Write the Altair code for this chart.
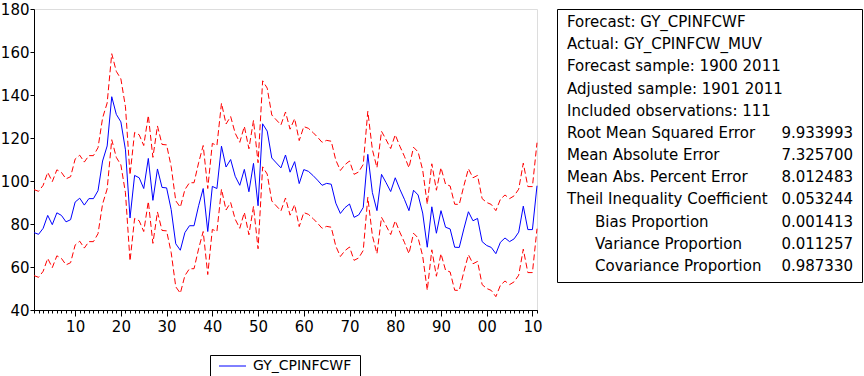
import altair as alt
import pandas as pd

years = list(range(1901, 2012))

forecast = [
    76.0, 75.2, 78.0, 84.0, 79.7, 85.2, 84.0, 81.0, 82.0, 90.2,
    92.0, 88.8, 91.8, 91.8, 95.5, 109.3, 116.3, 139.2, 131.0, 127.5,
    114.5, 82.8, 102.6, 101.5, 96.5, 110.5, 91.0, 105.6, 97.0, 96.8,
    86.7, 70.8, 67.8, 76.0, 79.2, 79.2, 88.5, 96.5, 76.5, 97.5,
    96.5, 116.2, 106.5, 110.0, 102.2, 98.0, 105.4, 95.0, 108.2, 88.5,
    126.6, 123.2, 110.7, 108.4, 106.1, 112.1, 104.1, 109.0, 98.8, 105.3,
    104.5, 102.6, 100.4, 98.0, 98.9, 98.5, 89.7, 84.9, 87.6, 89.3,
    83.1, 84.2, 87.7, 112.4, 94.6, 86.2, 103.1, 99.2, 95.1, 101.5,
    96.2, 91.5, 86.2, 95.7, 93.5, 85.1, 69.2, 88.0, 75.7, 86.2,
    78.5, 77.7, 69.2, 69.1, 77.7, 85.7, 81.5, 82.6, 71.8, 70.0,
    69.1, 66.2, 71.5, 73.5, 71.8, 73.1, 76.2, 88.3, 77.4, 77.4,
    97.8,
]

upper = [
    96.0, 95.2, 98.0, 104.0, 99.7, 105.2, 104.0, 101.0, 102.0, 110.2,
    112.0, 108.8, 111.8, 111.8, 115.5, 129.3, 136.3, 159.2, 151.0, 147.5,
    134.5, 102.8, 122.6, 121.5, 116.5, 130.5, 111.0, 125.6, 117.0, 116.8,
    106.7, 90.8, 87.8, 96.0, 99.2, 99.2, 108.5, 116.5, 96.5, 117.5,
    116.5, 136.2, 126.5, 130.0, 122.2, 118.0, 125.4, 115.0, 128.2, 108.5,
    146.6, 143.2, 130.7, 128.4, 126.1, 132.1, 124.1, 129.0, 118.8, 125.3,
    124.5, 122.6, 120.4, 118.0, 118.9, 118.5, 109.7, 104.9, 107.6, 109.3,
    103.1, 104.2, 107.7, 132.4, 114.6, 106.2, 123.1, 119.2, 115.1, 121.5,
    116.2, 111.5, 106.2, 115.7, 113.5, 105.1, 89.2, 108.0, 95.7, 106.2,
    98.5, 97.7, 89.2, 89.1, 97.7, 105.7, 101.5, 102.6, 91.8, 90.0,
    89.1, 86.2, 91.5, 93.5, 91.8, 93.1, 96.2, 108.3, 97.4, 97.4,
    117.8,
]

lower = [
    56.0, 55.2, 58.0, 64.0, 59.7, 65.2, 64.0, 61.0, 62.0, 70.2,
    72.0, 68.8, 71.8, 71.8, 75.5, 89.3, 96.3, 119.2, 111.0, 107.5,
    94.5, 62.8, 82.6, 81.5, 76.5, 90.5, 71.0, 85.6, 77.0, 76.8,
    66.7, 50.8, 47.8, 56.0, 59.2, 59.2, 68.5, 76.5, 56.5, 77.5,
    76.5, 96.2, 86.5, 90.0, 82.2, 78.0, 85.4, 75.0, 88.2, 68.5,
    106.6, 103.2, 90.7, 88.4, 86.1, 92.1, 84.1, 89.0, 78.8, 85.3,
    84.5, 82.6, 80.4, 78.0, 78.9, 78.5, 69.7, 64.9, 67.6, 69.3,
    63.1, 64.2, 67.7, 92.4, 74.6, 66.2, 83.1, 79.2, 75.1, 81.5,
    76.2, 71.5, 66.2, 75.7, 73.5, 65.1, 49.2, 68.0, 55.7, 66.2,
    58.5, 57.7, 49.2, 49.1, 57.7, 65.7, 61.5, 62.6, 51.8, 50.0,
    49.1, 46.2, 51.5, 53.5, 51.8, 53.1, 56.2, 68.3, 57.4, 57.4,
    77.8,
]

y_ticks = [40, 60, 80, 100, 120, 140, 160, 180]
x_major = list(range(1910, 2011, 10))

stat_labels = [
    "Forecast: GY_CPINFCWF",
    "Actual: GY_CPINFCW_MUV",
    "Forecast sample: 1900 2011",
    "Adjusted sample: 1901 2011",
    "Included observations: 111",
    "Root Mean Squared Error",
    "Mean Absolute Error",
    "Mean Abs. Percent Error",
    "Theil Inequality Coefficient",
    "Bias Proportion",
    "Variance Proportion",
    "Covariance Proportion",
]
stat_values = ["", "", "", "", "", "9.933993", "7.325700", "8.012483",
               "0.053244", "0.001413", "0.011257", "0.987330"]
stat_indent = [False] * 9 + [True] * 3

legend_label = "GY_CPINFCWF"

FONT = "DejaVu Sans"

df = pd.DataFrame({"year": years, "forecast": forecast, "upper": upper, "lower": lower})

y_axis = alt.Axis(values=y_ticks, tickSize=4, labelFontSize=15, labelPadding=1,
                  labelColor="black", tickColor="black", domainColor="black",
                  grid=False, title=None, labelFont=FONT)
x_scale = alt.Scale(domain=[1901, 2011], nice=False, zero=False)
y_scale = alt.Scale(domain=[40, 180], nice=False, zero=False)

major_axis = alt.Axis(values=x_major, tickSize=6, labelFontSize=15, labelPadding=3,
                      format="d", labelExpr="substring(datum.label, 2)",
                      labelColor="black", tickColor="black", domainColor="black",
                      grid=False, title=None, orient="bottom", labelFont=FONT)
minor_axis = alt.Axis(values=years, tickSize=3, labels=False,
                      tickColor="black", domainColor="black",
                      grid=False, title=None, orient="bottom")

base = alt.Chart(df)

blue = base.mark_line(color="#0000ff", strokeWidth=1).encode(
    x=alt.X("year:Q", scale=x_scale, axis=major_axis),
    y=alt.Y("forecast:Q", scale=y_scale, axis=y_axis),
)
up = base.mark_line(color="#ff0000", strokeWidth=1, strokeDash=[6, 3]).encode(
    x=alt.X("year:Q", scale=x_scale, axis=minor_axis),
    y=alt.Y("upper:Q", scale=y_scale, axis=y_axis),
)
lo = base.mark_line(color="#ff0000", strokeWidth=1, strokeDash=[6, 3]).encode(
    x=alt.X("year:Q", scale=x_scale, axis=None),
    y=alt.Y("lower:Q", scale=y_scale, axis=y_axis),
)
plot = alt.layer(up, lo, blue).resolve_axis(x="independent")

# statistics box
sdf = pd.DataFrame({"row": list(range(len(stat_labels))), "label": stat_labels,
                    "value": stat_values, "indent": stat_indent})
row_scale = alt.Scale(type="point", domain=list(range(len(stat_labels))),
                      range=[13, 257], padding=0)
one = pd.DataFrame({"k": [0]})
box = alt.Chart(one).mark_rect(fill="white", stroke="black", strokeWidth=1).encode(
    x=alt.value(523.5), x2=alt.value(828.5), y=alt.value(0.5), y2=alt.value(273.5))
lab_main = alt.Chart(sdf).transform_filter("!datum.indent").mark_text(
    align="left", baseline="middle", fontSize=15, font=FONT, color="black").encode(
    x=alt.value(533), y=alt.Y("row:O", scale=row_scale, axis=None), text="label:N")
lab_ind = alt.Chart(sdf).transform_filter("datum.indent").mark_text(
    align="left", baseline="middle", fontSize=15, font=FONT, color="black").encode(
    x=alt.value(561), y=alt.Y("row:O", scale=row_scale, axis=None), text="label:N")
vals = alt.Chart(sdf).mark_text(
    align="right", baseline="middle", fontSize=15, font=FONT, color="black").encode(
    x=alt.value(819), y=alt.Y("row:O", scale=row_scale, axis=None), text="value:N")
stats = alt.layer(box, lab_main, lab_ind, vals)

# legend
ldf = pd.DataFrame({"label": [legend_label]})
leg_box = alt.Chart(ldf).mark_rect(fill="white", stroke="black", strokeWidth=1).encode(
    x=alt.value(176.5), x2=alt.value(326.5), y=alt.value(346.5), y2=alt.value(380))
leg_line = alt.Chart(ldf).mark_rule(color="#0000ff", strokeWidth=1).encode(
    x=alt.value(185), x2=alt.value(212), y=alt.value(357))
leg_text = alt.Chart(ldf).mark_text(align="left", baseline="middle", fontSize=14,
                                    font=FONT, color="black").encode(
    x=alt.value(219), y=alt.value(357), text="label:N")
legend = alt.layer(leg_box, leg_line, leg_text)

chart = alt.layer(plot, stats, legend).resolve_scale(y="independent").properties(
    width=503, height=301,
    padding={"left": 34, "top": 9, "right": 327, "bottom": 66},
    autosize=alt.AutoSizeParams(type="none"),
    background="white",
).configure_view(stroke="black", strokeWidth=1).configure(font=FONT)

chart.save("out.html", embed_options={"renderer": "svg", "actions": False})
